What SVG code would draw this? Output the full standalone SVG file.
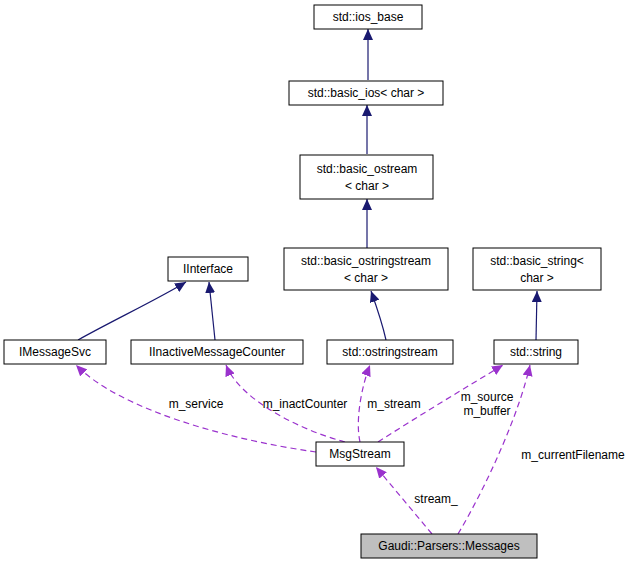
<svg xmlns="http://www.w3.org/2000/svg" width="627" height="564" viewBox="0 0 627 564">
<style>
.n rect{fill:#fff;stroke:#000;stroke-width:1}
text{font-family:"Liberation Sans",Arial,sans-serif;font-size:12px;text-anchor:middle;fill:#000}
.i{fill:none;stroke:#191970;stroke-width:1.2}
.u{fill:none;stroke:#9a32cd;stroke-width:1.2;stroke-dasharray:6,4}
</style>
<defs>
<marker id="ai" markerWidth="12" markerHeight="10" refX="11" refY="5" orient="auto" markerUnits="userSpaceOnUse"><path d="M0,0L11,5L0,10z" fill="#191970"/></marker>
<marker id="au" markerWidth="12" markerHeight="10" refX="11" refY="5" orient="auto" markerUnits="userSpaceOnUse"><path d="M0,0L11,5L0,10z" fill="#9a32cd"/></marker>
</defs>
<g id="edges">
<path class="i" d="M368,80L368,29" marker-end="url(#ai)"/>
<path class="i" d="M367,154L367,105" marker-end="url(#ai)"/>
<path class="i" d="M367,248L367,199" marker-end="url(#ai)"/>
<path class="i" d="M386,340C382,322 376,305 371,291" marker-end="url(#ai)"/>
<path class="i" d="M536,340L537,291" marker-end="url(#ai)"/>
<path class="i" d="M78,340C110,322 160,298 186,282" marker-end="url(#ai)"/>
<path class="i" d="M215,340L209,282" marker-end="url(#ai)"/>
<path class="u" d="M316,452C230,440 120,410 76,365" marker-end="url(#au)"/>
<path class="u" d="M345,442C300,430 240,400 226,365" marker-end="url(#au)"/>
<path class="u" d="M360,442C355,420 362,385 370,365" marker-end="url(#au)"/>
<path class="u" d="M378,442C420,415 470,385 503,365" marker-end="url(#au)"/>
<path class="u" d="M432,534L376,467" marker-end="url(#au)"/>
<path class="u" d="M458,534C490,480 520,410 530,365" marker-end="url(#au)"/>
<text x="196" y="408">m_service</text>
<text x="305" y="408">m_inactCounter</text>
<text x="394" y="408">m_stream</text>
<text x="487" y="401">m_source</text>
<text x="487" y="415">m_buffer</text>
<text x="436" y="503">stream_</text>
<text x="573" y="459">m_currentFilename</text>
</g>
<g id="ios_base" class="n"><rect x="314" y="5" width="108" height="24"/><text x="368" y="21">std::ios_base</text></g>
<g id="basic_ios" class="n"><rect x="289" y="81" width="154" height="24"/><text x="366" y="97">std::basic_ios&lt; char &gt;</text></g>
<g id="basic_ostream" class="n"><rect x="300" y="155" width="133" height="44"/><text x="367" y="173">std::basic_ostream</text><text x="367" y="190">&lt; char &gt;</text></g>
<g id="basic_ostringstream" class="n"><rect x="284" y="248" width="164" height="42"/><text x="366" y="265">std::basic_ostringstream</text><text x="366" y="282">&lt; char &gt;</text></g>
<g id="ostringstream" class="n"><rect x="327" y="340" width="126" height="24"/><text x="390" y="356">std::ostringstream</text></g>
<g id="basic_string" class="n"><rect x="473" y="248" width="128" height="42"/><text x="537" y="265">std::basic_string&lt;</text><text x="537" y="282">char &gt;</text></g>
<g id="string" class="n"><rect x="494" y="340" width="84" height="24"/><text x="536" y="356">std::string</text></g>
<g id="IInterface" class="n"><rect x="168" y="257" width="80" height="24"/><text x="208" y="273">IInterface</text></g>
<g id="IMessageSvc" class="n"><rect x="4" y="340" width="102" height="24"/><text x="55" y="356">IMessageSvc</text></g>
<g id="IInactiveMessageCounter" class="n"><rect x="131" y="340" width="172" height="24"/><text x="217" y="356">IInactiveMessageCounter</text></g>
<g id="MsgStream" class="n"><rect x="316" y="442" width="88" height="24"/><text x="360" y="458">MsgStream</text></g>
<g id="Messages" class="n"><rect x="361" y="534" width="176" height="24" style="fill:#bfbfbf"/><text x="449" y="550">Gaudi::Parsers::Messages</text></g>
</svg>
